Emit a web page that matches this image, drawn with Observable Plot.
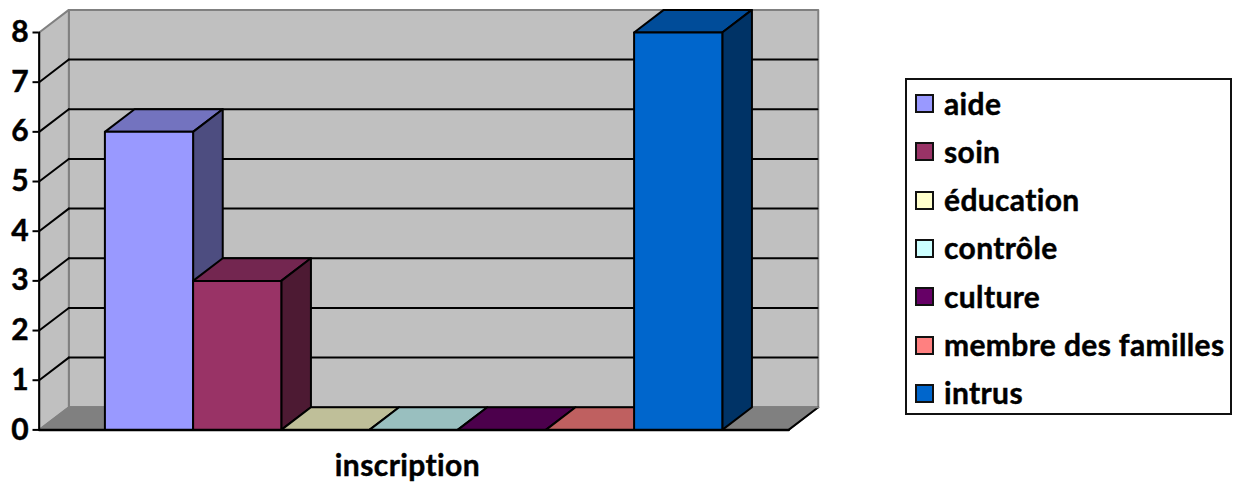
<!DOCTYPE html>
<html><head><meta charset="utf-8">
<script src="https://cdn.jsdelivr.net/npm/d3@7"></script>
<script src="https://cdn.jsdelivr.net/npm/@observablehq/plot@0.6"></script>
<style>
html,body{margin:0;padding:0;background:#fff;}
#wrap{position:relative;width:1240px;height:486px;overflow:hidden;font-family:Lato,sans-serif;font-weight:700;color:#000;font-variant-ligatures:none;}
#chart svg{display:block;position:absolute;left:0;top:0;}
#chart svg text{font-variant-ligatures:none;letter-spacing:.4px;stroke:#000;stroke-width:.45px;}
#legend{position:absolute;left:905px;top:78px;width:323px;height:333px;border:2px solid #111;background:#fff;}
.row{position:absolute;left:0;height:48px;display:flex;align-items:center;font-size:30px;line-height:1;white-space:nowrap;letter-spacing:.36px;-webkit-text-stroke:.45px #000;}
.row span{position:relative;top:-1px;}
.sw{box-sizing:border-box;width:19px;height:19px;border:2px solid #111;margin:0 10.5px 0 7.5px;-webkit-text-stroke:0;}
</style></head><body>
<div id="wrap"><div id="chart"></div><div id="legend"></div></div>
<script>
const category = "inscription";
const series = ["aide","soin","éducation","contrôle","culture","membre des familles","intrus"];
const values = [6,3,0,0,0,0,8];
const frontColors = ["#9999FF","#993366","#FFFFCC","#CCFFFF","#660066","#FF8080","#0066CC"];
const topColors   = ["#7373BF","#732650","#BFBF99","#99BFBF","#4C004C","#BF6060","#004C99"];
const sideColors  = ["#4D4D80","#4D1A33","#808066","#668080","#330033","#804040","#003366"];
const yTicks = [0,1,2,3,4,5,6,7,8];

// Depth of the 3D box and floor extent, in scale units
const dx = 0.336, dy = 0.455;
const xMin = -0.745, xMax = 7.752, yMax = 8;

const poly = (pts, fill, stroke, strokeWidth = 2) =>
  Plot.line(pts, {x: d => d[0], y: d => d[1], curve: "linear-closed", fill, stroke, strokeWidth, strokeLinejoin: "round"});
const seg = (pts, stroke, strokeWidth = 2) =>
  Plot.line(pts, {x: d => d[0], y: d => d[1], stroke, strokeWidth});

const marks = [
  // walls and floor
  poly([[xMin+dx,0+dy],[xMax+dx,0+dy],[xMax+dx,yMax+dy],[xMin+dx,yMax+dy]], "#C0C0C0", "#808080", 2),
  poly([[xMin,0],[xMin+dx,dy],[xMin+dx,yMax+dy],[xMin,yMax]], "#C0C0C0", "#808080", 2),
  poly([[xMin,0],[xMin+dx,dy],[xMax+dx,dy],[xMax,0]], "#808080", "#808080", 1.5),
  seg([[xMax,0],[xMax+dx,dy]], "#000", 2),
  // gridlines
  ...yTicks.filter(t => t > 0 && t < yMax).map(t => seg([[xMin+dx,t+dy],[xMax+dx-0.01,t+dy]], "#000", 2)),
  ...yTicks.filter(t => t > 0 && t < yMax).map(t => seg([[xMin,t],[xMin+dx,t+dy]], "#000", 2)),
  seg([[xMin+dx,dy],[xMax+dx,dy]], "#808080", 2)
];

// bars, back to front: top and side faces then front
values.forEach((v, i) => {
  marks.push(poly([[i,v],[i+dx,v+dy],[i+1+dx,v+dy],[i+1,v]], topColors[i], "#000", 2));
  if (v > 0) {
    marks.push(poly([[i+1,0],[i+1+dx,dy],[i+1+dx,v+dy],[i+1,v]], sideColors[i], "#000", 2));
    marks.push(poly([[i,0],[i+1,0],[i+1,v],[i,v]], frontColors[i], "#000", 2));
  }
});

marks.push(
  seg([[xMin,0],[xMax,0]], "#000", 2.5),
  seg([[xMin,0],[xMin,yMax]], "#000", 2),
  Plot.axisY({anchor: "left", ticks: yTicks, tickFormat: d => String(d), tickSize: 6, tickPadding: 4, fontSize: 30, stroke: "#000", strokeWidth: 2, label: null, fill: "#000"}),
  Plot.text([category], {x: 3.43, y: 0, text: d => d, dy: 36, fontSize: 30, fill: "#000"})
);

const plot = Plot.plot({
  width: 880, height: 486,
  marginLeft: 38.5, marginRight: 0, marginTop: 0, marginBottom: 0,
  x: {domain: [0,7], range: [104.4,721.8], axis: null},
  y: {domain: [0,8], range: [429.4,32], axis: null},
  style: {fontFamily: "Lato, sans-serif", fontWeight: 700, background: "transparent", overflow: "visible"},
  marks
});
document.getElementById("chart").appendChild(plot);

const legend = d3.select("#legend");
series.forEach((s, i) => {
  const r = legend.append("div").attr("class","row");
  r.style("top", (-0.5 + i*48.3) + "px");
  r.append("div").attr("class","sw").style("background",frontColors[i]);
  r.append("span").text(s);
});
</script></body></html>
